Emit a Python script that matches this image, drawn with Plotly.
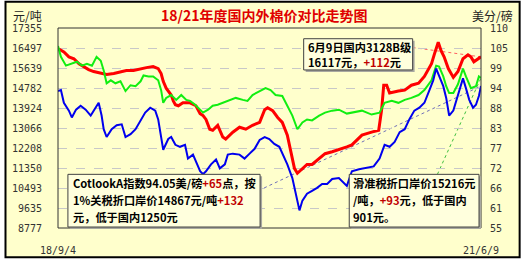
import numpy as np
import plotly.graph_objects as go

# ---------------- data ----------------
# x = days since 2018-09-04 (last point 2021-06-09 = day 1009)
red_days = [2,14,26,38,50,62,73,85,97,116,133,149,163,180,197,211,227,239,246,251,
            258,263,270,275,280,287,298,315,329,339,346,353,362,369,381,393,400,417,433,448,
            464,481,493,500,512,524,535,547,554,564,571,583,594,606,623,637,654,670,689,701,
            725,748,765,772,777,784,791,812,827,843,860,874,891,898,907,914,921,931,943,954,
            966,978,985,992,1002,1009]
red_vals = [16453,16327,16117,16034,15824,15698,15572,15488,15446,15362,
            15404,15488,15530,15530,15614,15656,15698,15614,15404,15069,
            14775,14649,14481,14230,14062,14020,14146,14146,14020,13684,
            13600,13433,13013,12971,13181,12678,12594,12887,13097,13013,
            13181,13307,13852,13936,13810,13517,13307,12761,12174,11335,
            11125,11335,11503,11503,11755,11964,12048,12132,12258,12342,
            12761,12887,12971,13852,14901,14901,14565,14649,14691,14901,
            14985,15278,15824,16243,16747,16369,16117,15614,15237,15488,
            16034,16201,16117,15908,16034,16117]

green_days = [0,7,19,31,45,57,69,81,92,102,109,116,126,137,149,161,173,185,197,204,
              216,227,239,246,251,258,270,282,294,306,315,327,339,346,358,369,381,393,410,424,
              441,452,464,481,495,507,519,535,547,559,571,583,594,606,623,637,654,670,689,701,
              725,748,767,779,796,812,827,843,860,874,891,902,909,919,926,933,943,954,966,973,
              985,997,1004,1009]
green_vals = [16579,16117,15740,15824,15908,15740,15824,15740,16117,15950,
              15530,14985,15111,14985,15069,14649,14901,14859,15069,15320,
              15278,15278,15111,14691,14146,14356,14481,14272,14481,14272,
              14230,14062,13852,13726,13852,14020,14062,14146,14272,14356,
              14272,14230,14481,14649,14775,14691,14481,14439,14020,13600,
              13013,13307,13433,13391,13600,13726,13810,13852,13684,13726,
              13810,13642,13726,14146,14230,14146,14272,14356,14481,14691,
              15111,15740,15698,15278,14859,14565,14565,14943,15614,15278,
              14775,14859,15278,15216]

blue_days = [0,7,14,26,33,43,54,66,78,90,97,104,109,116,128,140,152,161,173,185,
             197,208,220,232,239,246,251,263,270,280,291,303,310,322,329,339,346,353,365,377,
             386,398,405,417,433,445,457,469,481,493,504,516,528,540,547,559,566,576,583,594,
             606,618,630,642,654,670,689,701,718,732,753,767,779,791,803,815,827,838,850,862,
             874,886,895,902,909,919,926,933,943,950,957,966,973,981,990,997,1004,1009]
blue_vals = [92.66,92.92,89.43,87.28,85.40,87.55,88.62,87.55,85.93,88.08,
             89.43,85.93,82.17,80.02,82.17,83.24,83.51,80.02,80.82,82.17,
             84.59,86.74,88.08,87.28,84.86,80.56,76.52,79.48,80.02,77.87,
             77.33,77.87,74.10,75.18,73.30,70.61,69.80,70.61,72.49,73.83,
             71.41,72.49,75.18,75.45,75.18,74.10,75.45,76.79,79.21,80.02,
             79.48,78.14,77.33,74.10,72.49,68.72,65.23,59.85,62.54,64.42,
             65.23,66.03,67.11,67.11,68.46,68.72,66.57,70.61,71.14,71.41,
             71.95,74.10,77.87,77.33,78.67,81.36,82.17,84.86,87.28,88.08,
             89.43,92.92,95.61,98.84,96.69,94.00,90.77,85.93,87.28,89.97,
             92.92,96.15,93.46,90.24,88.08,88.89,91.31,94.05]

left_ticks = ["8777","9635","10493","11350","12208","13066","13924","14782","15639","16497","17355"]
right_ticks = ["55","61","66","72","77","83","88","94","99","105","110"]
x_ticks = ["18/9/4", "21/6/9"]
x_span = [0, 1009]

title_text = "18/21年度国内外棉价对比走势图"
box1_lines = ["CotlookA指数94.05美/磅<span style='color:#C00000'>+65</span>点，按",
              "1%关税折口岸价14867元/吨<span style='color:#C00000'>+132</span>",
              "元，低于国内1250元"]
box2_lines = ["6月9日国内3128B级",
              "16117元，<span style='color:#C00000'>+112</span>元"]
box3_lines = ["滑准税折口岸价15216元",
              "/吨，<span style='color:#C00000'>+93</span>元，低于国内",
              "901元。"]

# ---------------- layout geometry ----------------
W, H = 524, 268
L, R, T, B = 54, 481, 28, 233
BG = "#FFFFCC"
ylo, yhi = float(left_ticks[0]), float(left_ticks[-1])
y2lo, y2hi = float(right_ticks[0]), float(right_ticks[-1])

def px(x):
    return (x - L) / (R - L)

def py(y):
    return 1 - (y - T) / (B - T)

def xd(x):
    return x_span[0] + px(x) * (x_span[1] - x_span[0])

def yd(y):
    return ylo + py(y) * (yhi - ylo)

def y2d(y):
    return y2lo + py(y) * (y2hi - y2lo)

fig = go.Figure()
fig.add_trace(go.Scatter(x=red_days, y=red_vals, mode="lines",
                         line=dict(color="#FF0000", width=3), yaxis="y"))
fig.add_trace(go.Scatter(x=green_days, y=green_vals, mode="lines",
                         line=dict(color="#11EE11", width=2), yaxis="y"))
fig.add_trace(go.Scatter(x=blue_days, y=blue_vals, mode="lines",
                         line=dict(color="#0000EE", width=2), yaxis="y2"))

shapes = []
# outer frame / background
shapes.append(dict(type="rect", xref="paper", yref="paper",
                   x0=px(1), x1=px(520), y0=py(1), y1=py(263),
                   fillcolor=BG, line=dict(color="#000000", width=2), layer="below"))
# plot border
shapes.append(dict(type="rect", xref="paper", yref="paper",
                   x0=0, x1=1, y0=0, y1=1,
                   line=dict(color="#333333", width=1), layer="above"))
# dotted connectors
shapes.append(dict(type="line", xref="x", yref="y", x0=xd(412), y0=yd(48),
                   x1=red_days[-1], y1=red_vals[-1],
                   line=dict(color="#FF6060", width=1, dash="dot"), layer="below"))
shapes.append(dict(type="line", xref="x", yref="y2", x0=xd(262), y0=y2d(192),
                   x1=blue_days[-1], y1=blue_vals[-1],
                   line=dict(color="#7070B8", width=1, dash="dot"), layer="below"))
shapes.append(dict(type="line", xref="x", yref="y", x0=xd(437), y0=yd(178),
                   x1=green_days[-1], y1=green_vals[-1],
                   line=dict(color="#40C040", width=1, dash="dot"), layer="below"))

boxes = [((64, 178, 258, 232), box1_lines, 67, [187, 204, 222]),
         ((302, 39, 412, 71), box2_lines, 304, [47, 63]),
         ((348, 178, 479, 232), box3_lines, 350, [187, 204, 222])]

annotations = []
for (x0, y0, x1, y1), lines, tx, tys in boxes:
    shapes.append(dict(type="rect", xref="paper", yref="paper",
                       x0=px(x0 + 2), x1=px(x1 + 2), y0=py(y0 + 2), y1=py(y1 + 2),
                       fillcolor="#A8A8A0", line=dict(width=0), layer="above"))
    shapes.append(dict(type="rect", xref="paper", yref="paper",
                       x0=px(x0), x1=px(x1), y0=py(y0), y1=py(y1),
                       fillcolor="#FFFFDD", line=dict(color="#404040", width=1), layer="above"))
    for line_text, ty in zip(lines, tys):
        annotations.append(dict(xref="paper", yref="paper", x=px(tx), y=py(ty),
                                xanchor="left", yanchor="middle", showarrow=False,
                                text="<b>" + line_text + "</b>",
                                font=dict(family="Noto Sans CJK SC", size=11.2, color="#000000")))

annotations.append(dict(xref="paper", yref="paper", x=px(262), y=py(15),
                        xanchor="center", yanchor="middle", showarrow=False,
                        text="<b>" + title_text + "</b>",
                        font=dict(family="Noto Sans CJK SC", size=14, color="#E00000")))
annotations.append(dict(xref="paper", yref="paper", x=px(7), y=py(15),
                        xanchor="left", yanchor="middle", showarrow=False,
                        text="元/吨",
                        font=dict(family="Noto Sans CJK SC", size=12, color="#222222")))
annotations.append(dict(xref="paper", yref="paper", x=px(515), y=py(15),
                        xanchor="right", yanchor="middle", showarrow=False,
                        text="美分/磅",
                        font=dict(family="Noto Sans CJK SC", size=12, color="#222222")))

tick_font = dict(family="DejaVu Sans Mono", size=10, color="#333333")

fig.update_layout(
    width=W, height=H,
    margin=dict(l=L, r=W - R, t=T, b=H - B, pad=0),
    paper_bgcolor="#FFFFFF",
    plot_bgcolor="rgba(0,0,0,0)",
    showlegend=False,
    shapes=shapes,
    annotations=annotations,
    xaxis=dict(range=x_span, tickvals=x_span, ticktext=x_ticks,
               showgrid=False, zeroline=False, showline=False, ticks="",
               tickfont=tick_font, ticklabelstandoff=15, fixedrange=True),
    yaxis=dict(range=[ylo, yhi], tickvals=np.linspace(ylo, yhi, len(left_ticks)),
               ticktext=left_ticks, showgrid=True, gridcolor="#C8C8C8",
               griddash="dash", gridwidth=1, zeroline=False, showline=False,
               ticks="", tickfont=tick_font, ticklabelstandoff=15),
    yaxis2=dict(range=[y2lo, y2hi], tickvals=np.linspace(y2lo, y2hi, len(right_ticks)),
                ticktext=right_ticks, overlaying="y", side="right",
                showgrid=False, zeroline=False, showline=False,
                ticks="", tickfont=tick_font, ticklabelstandoff=8),
)

fig.write_html("out.html")
